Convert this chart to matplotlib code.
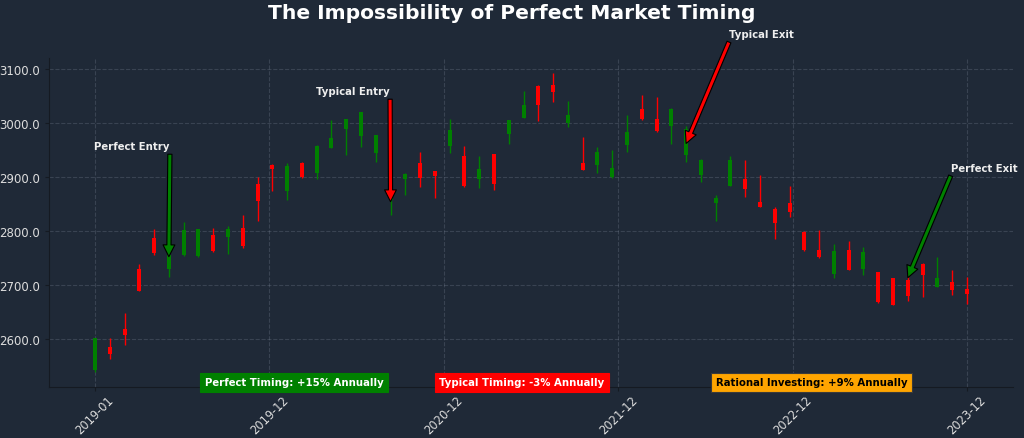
import matplotlib
matplotlib.use("Agg")
import matplotlib.pyplot as plt
import numpy as np

BG = "#1f2937"
UP = "green"
DOWN = "red"

# monthly candles, Jan 2019 - Dec 2023
OPEN = [2541, 2585, 2618, 2730, 2787, 2729, 2756, 2753, 2793, 2788,
        2806, 2887, 2922, 2874, 2926, 2908, 2954, 2989, 2975, 2945,
        2858, 2896, 2925, 2910, 2958, 2938, 2896, 2942, 2980, 3010,
        3069, 3071, 2999, 2925, 2922, 2899, 2959, 3026, 3007, 2994,
        2941, 2904, 2852, 2884, 2896, 2854, 2840, 2852, 2798, 2765,
        2720, 2764, 2729, 2723, 2712, 2709, 2739, 2696, 2705, 2693]
HIGH = [2602, 2602, 2647, 2738, 2804, 2762, 2817, 2804, 2806, 2809,
        2830, 2899, 2923, 2925, 2927, 2959, 3006, 3008, 3021, 2978,
        2885, 2907, 2946, 2911, 3008, 2957, 2938, 2943, 3006, 3060,
        3070, 3093, 3041, 2974, 2956, 2950, 3015, 3051, 3049, 3028,
        2995, 2933, 2866, 2938, 2931, 2904, 2844, 2884, 2799, 2801,
        2776, 2781, 2770, 2724, 2713, 2727, 2740, 2752, 2727, 2714]
LOW = [2538, 2562, 2588, 2688, 2756, 2714, 2754, 2752, 2761, 2757,
       2769, 2818, 2874, 2858, 2897, 2896, 2953, 2941, 2955, 2928,
       2830, 2867, 2882, 2860, 2944, 2881, 2879, 2876, 2961, 3009,
       3004, 3038, 2992, 2912, 2908, 2898, 2946, 3006, 2984, 2961,
       2927, 2890, 2818, 2883, 2863, 2844, 2784, 2825, 2763, 2750,
       2713, 2727, 2718, 2667, 2662, 2669, 2678, 2695, 2681, 2665]
CLOSE = [2601, 2571, 2606, 2689, 2758, 2755, 2802, 2803, 2762, 2803,
         2772, 2855, 2915, 2920, 2900, 2957, 2973, 3007, 3020, 2977,
         2880, 2906, 2898, 2902, 2987, 2884, 2914, 2887, 3005, 3034,
         3034, 3058, 3014, 2913, 2947, 2916, 2984, 3007, 2985, 3025,
         2989, 2932, 2860, 2931, 2878, 2845, 2814, 2835, 2764, 2751,
         2762, 2728, 2760, 2668, 2663, 2680, 2718, 2712, 2690, 2683]
TICK_LABELS = ["2019-01", "2019-12", "2020-12", "2021-12", "2022-12", "2023-12"]

# annotated moments: label, candle index, price pointed at, label anchor
EVENT_LABELS = ["Perfect Entry", "Typical Entry", "Typical Exit", "Perfect Exit"]
EVENT_IDX = [5.0, 20.0, 40.0, 55.0]
EVENT_PRICE = [2752, 2854, 2962, 2713]
EVENT_TEXT_IDX = [5.07, 19.97, 42.9, 57.9]
EVENT_TEXT_PRICE = [2942, 3044, 3150, 2902]
EVENT_COLORS = ["green", "red", "red", "green"]
EVENT_HA = ["right", "right", "left", "left"]

BOX_LABELS = ["Perfect Timing: +15% Annually", "Typical Timing: -3% Annually",
              "Rational Investing: +9% Annually"]
BOX_COLORS = ["green", "red", "orange"]
BOX_TEXT = ["white", "white", "black"]
BOX_X = [0.254, 0.4907, 0.791]


def main() -> None:
    fig = plt.figure(figsize=(10.24, 4.39), dpi=100, facecolor=BG)
    ax = fig.add_axes([0.048, 0.116, 0.941, 0.75], facecolor=BG)

    o, h, l, c = (np.array(a, dtype=float) for a in (OPEN, HIGH, LOW, CLOSE))
    x = np.arange(len(o))
    colors = np.where(c >= o, UP, DOWN)

    ax.vlines(x, l, h, colors=colors, linewidth=1, zorder=2)
    ax.bar(x, np.maximum(np.abs(c - o), 1), bottom=np.minimum(o, c),
           width=0.27, color=colors, zorder=3)

    ticks = np.linspace(0, len(x) - 1, len(TICK_LABELS))
    ax.set_xticks(ticks, TICK_LABELS, rotation=45)
    ax.yaxis.set_major_formatter(matplotlib.ticker.FormatStrFormatter("%.1f"))
    ax.tick_params(colors="#dddddd", labelsize=8.5, length=3)
    ax.tick_params(axis="both", color="#151a22")
    ax.tick_params(axis="x", pad=1.5, labelsize=8.3)
    ax.grid(True, linestyle="--", color="#8a94a6", alpha=0.25, linewidth=0.8)
    for side in ("top", "right"):
        ax.spines[side].set_visible(False)
    for side in ("left", "bottom"):
        ax.spines[side].set_color("#151a22")

    for lab, xi, yi, tx, ty, col, ha in zip(EVENT_LABELS, EVENT_IDX, EVENT_PRICE,
                                            EVENT_TEXT_IDX, EVENT_TEXT_PRICE,
                                            EVENT_COLORS, EVENT_HA):
        ax.annotate("", xy=(xi, yi), xytext=(tx, ty),
                    arrowprops=dict(facecolor=col, edgecolor="black", width=3,
                                    headwidth=8.5, headlength=8.5, shrink=0,
                                    linewidth=0.8),
                    annotation_clip=False, zorder=5)
        ax.text(tx, ty + 6, lab, ha=ha, va="bottom", color="#eeeeee",
                fontsize=7.3, fontweight="bold", clip_on=False, zorder=6)

    for lab, bx, col, tc in zip(BOX_LABELS, BOX_X, BOX_COLORS, BOX_TEXT):
        ax.text(bx, 0.014, lab, transform=ax.transAxes, ha="center", va="center",
                color=tc, fontsize=7.3, fontweight="bold", zorder=7,
                bbox=dict(boxstyle="square,pad=0.45", facecolor=col,
                          edgecolor="#3a3a3a" if col == "orange" else col,
                          linewidth=0.8))

    fig.text(0.5, 0.97, "The Impossibility of Perfect Market Timing",
             ha="center", va="center", color="white", fontsize=14.6,
             fontweight="bold")

    fig.savefig("out.png", dpi=100, facecolor=BG)


if __name__ == "__main__":
    main()
